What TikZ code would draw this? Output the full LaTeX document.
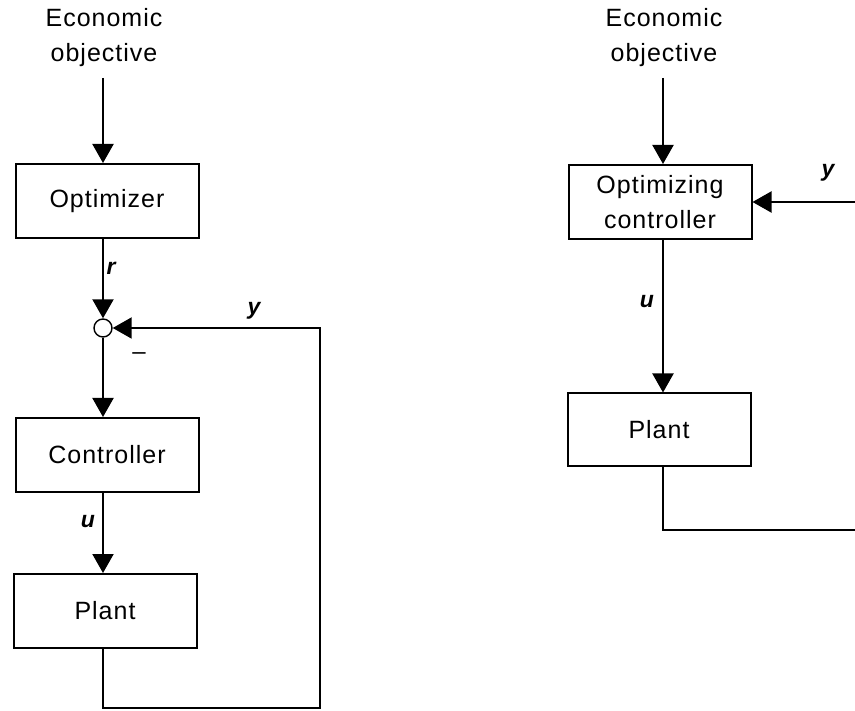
\documentclass[tikz,border=0pt]{standalone}
\usepackage{fontspec}
\setmainfont{Liberation Sans}
\usetikzlibrary{arrows.meta,calc}
\begin{document}
\begin{tikzpicture}[x=1pt,y=-1pt,
  line width=2pt,
  txt/.style={font=\fontsize{25}{35}\selectfont\addfontfeatures{LetterSpace=4}, text=black},
  blk/.style={draw=black, minimum width=183pt, minimum height=74pt, inner sep=0pt, txt, align=center},
  lbl/.style={font=\fontsize{23}{26}\selectfont\bfseries\itshape, inner sep=0pt},
  arr/.style={-{Triangle[width=21pt,length=19pt]}},
  conn/.style={draw=black}
]
\useasboundingbox (0,0) rectangle (855,711);

% ---------- left diagram ----------
\node[txt, align=center, anchor=north] (eoL) at (104,4) {Economic\\objective};
\coordinate (sL) at (103,78);
\node[blk] (opt) at (107,201) {Optimizer};
\node[circle, draw=black, line width=1.4pt, fill=white, minimum size=18pt, inner sep=0pt] (sum) at (103,328) {};
\node[blk] (ctrl) at (107,455) {Controller};
\node[blk] (plantL) at (105,611) {Plant};
\coordinate (cL1) at (320,708);

\draw[conn,arr] (sL) -- (sL |- opt.north);
\draw[conn,arr] (opt.south -| sum) -- (sum.north);
\draw[conn,arr] (sum.south) -- (sum |- ctrl.north);
\draw[conn,arr] (ctrl.south -| sum) -- (sum |- plantL.north);
\draw[conn,arr] (plantL.south -| sum) |- (cL1) |- (sum.east);

\node[lbl] (rL) at (111,268) {r};
\node[lbl] (uL) at (88,522) {u};
\node[lbl] (yL) at (254,311) {y};
\node[font=\fontsize{24}{26}\selectfont, inner sep=0pt] (minus) at (139,356) {\textendash};

% ---------- right diagram ----------
\node[txt, align=center, anchor=north] (eoR) at (664,4) {Economic\\objective};
\coordinate (sR) at (663,78);
\node[blk] (optc) at (660,202) {Optimizing\\controller};
\node[blk, minimum height=73pt] (plantR) at (659,430) {Plant};
\coordinate (eR1) at (855,202);
\coordinate (eR2) at (855,530);

\draw[conn,arr] (sR) -- (sR |- optc.north);
\draw[conn,arr] (eR1) -- (optc.east);
\draw[conn,arr] (optc.south -| sR) -- (sR |- plantR.north);
\draw[conn] (plantR.south -| sR) |- (eR2);

\node[lbl] (yR) at (828,173) {y};
\node[lbl] (uR) at (647,302) {u};
\end{tikzpicture}
\end{document}
